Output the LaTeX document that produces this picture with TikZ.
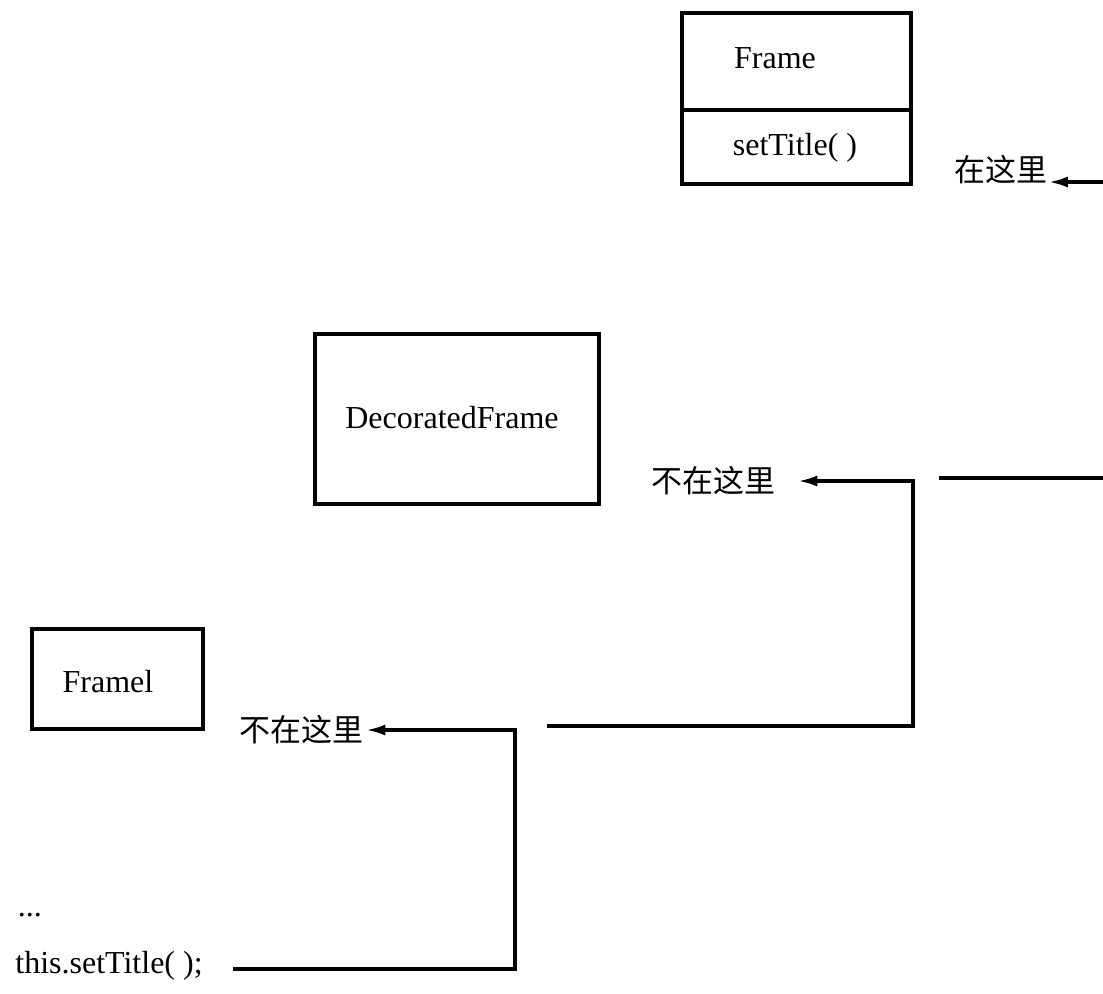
\documentclass[tikz,border=0pt]{standalone}
\usepackage{fontspec}
\setmainfont{Liberation Serif}
\newfontfamily\cjk{Noto Sans CJK SC}
\usetikzlibrary{arrows.meta}
\begin{document}
\begin{tikzpicture}[x=0.5pt,y=-0.5pt,
  box/.style={draw,line width=1.6pt,inner sep=0pt,outer sep=0pt,rectangle},
  txt/.style={inner sep=0pt,font=\fontsize{16}{19}\selectfont},
  cn/.style={inner sep=0pt,font=\cjk\fontsize{15.5}{18}\selectfont},
  conn/.style={line width=1.8pt},
  arr/.style={conn,-{Latex[length=10pt,width=5.5pt]}}]
\useasboundingbox (0,0) rectangle (1103,993);
% boxes
\node[box,minimum width=114.5pt,minimum height=48.5pt] (frametop) at (796.5,61.5) {};
\node[box,minimum width=114.5pt,minimum height=37pt,anchor=north] (framebot) at (frametop.south) {};
\node[txt] (frametxt) at (775,58) {Frame};
\node[txt] (settxt) at (795,148) {setTitle( )};
\node[box,minimum width=142pt,minimum height=85pt] (deco) at (457,419) {};
\node[txt] (decotxt) at (452,418) {DecoratedFrame};
\node[box,minimum width=85.5pt,minimum height=50pt] (framel) at (117.5,679) {};
\node[txt] (frameltxt) at (108,682) {Framel};
% labels
\node[cn] (here) at (1001,170) {在这里};
\node[cn] (nothere1) at (713,481) {不在这里};
\node[cn] (nothere2) at (301,730) {不在这里};
\node[txt] (dots) at (30,915) {...};
\node[txt] (call) at (109,966) {this.setTitle( );};
% connector points
\coordinate (in1) at (1103,182);
\coordinate (in2) at (1103,478);
\coordinate (out2) at (939,478);
\coordinate (s2) at (547,726);
\coordinate (k2) at (913,726);
\coordinate (s3) at (233,969);
\coordinate (k3) at (515,969);
% connectors
\draw[arr] (in1) -- (in1 -| here.east);
\draw[conn] (in2) -- (out2);
\draw[arr] (s2) -- (k2) -- (k2 |- nothere1.east) -- ([xshift=11pt]nothere1.east);
\draw[arr] (s3) -- (k3) -- (k3 |- nothere2.east) -- ([xshift=1pt]nothere2.east);
\end{tikzpicture}
\end{document}
